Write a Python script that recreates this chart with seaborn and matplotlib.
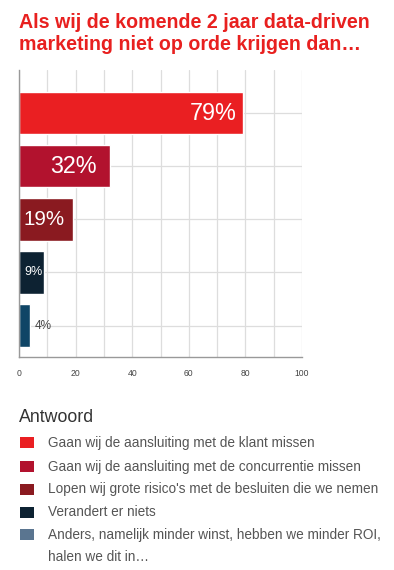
import matplotlib
matplotlib.use("Agg")
import matplotlib.pyplot as plt
import seaborn as sns
import pandas as pd
from matplotlib.patches import Rectangle

categories = [
    "Gaan wij de aansluiting met de klant missen",
    "Gaan wij de aansluiting met de concurrentie missen",
    "Lopen wij grote risico's met de besluiten die we nemen",
    "Verandert er niets",
    "Anders, namelijk minder winst, hebben we minder ROI,\nhalen we dit in\u2026",
]
values = [79, 32, 19, 9, 4]
labels = ["79%", "32%", "19%", "9%", "4%"]
bar_colors = ["#EA1F22", "#B2122E", "#8A1A20", "#0D2232", "#0F4566"]
legend_colors = ["#EA1F22", "#B2122E", "#8A1A20", "#0D2232", "#5A7590"]
x_ticks = [0, 20, 40, 60, 80, 100]
title = "Als wij de komende 2 jaar data-driven\nmarketing niet op orde krijgen dan\u2026"
legend_title = "Antwoord"

sns.set_style("white")
plt.rcParams['font.family'] = ['Liberation Sans', 'DejaVu Sans']

df = pd.DataFrame({"cat": categories, "val": values})

fig = plt.figure(figsize=(3.94, 5.70), dpi=100)
W, H = 394, 570
ax = fig.add_axes([19 / W, 1 - 357 / H, (302 - 19) / W, (357 - 70) / H])

sns.barplot(data=df, y="cat", x="val", hue="cat", palette=bar_colors,
            legend=False, orient="h", width=0.8, ax=ax, saturation=1)

ax.set_xlim(0, 100)
ax.set_ylim(4.59, -0.81)
ax.set_xticks(range(0, 101, 10), minor=True)
ax.set_xticks(x_ticks)
ax.set_xticklabels([str(t) for t in x_ticks], fontsize=6.2, color="#444444")
ax.set_yticks(range(len(categories)))
ax.set_yticklabels([])
ax.set_xlabel("")
ax.set_ylabel("")
ax.tick_params(axis="both", length=0, pad=9)
ax.grid(True, which="both", axis="x", color="#DDDDDD", linewidth=0.9)
ax.grid(True, which="major", axis="y", color="#DDDDDD", linewidth=0.9)
ax.set_axisbelow(True)
for s in ["top", "right"]:
    ax.spines[s].set_visible(False)
ax.spines["left"].set_color("#999999")
ax.spines["bottom"].set_color("#999999")
ax.spines["left"].set_linewidth(1.0)
ax.spines["bottom"].set_linewidth(1.0)

sizes = [16.8, 16.8, 14.8, 9, 8.5]
pads = [-4, -9, -6, -1.5, 3]
for i, (v, lab) in enumerate(zip(values, labels)):
    if v >= 5:
        ax.annotate(lab, (v, i), xytext=(pads[i], 0), textcoords="offset points",
                    ha="right", va="center", color="white", fontsize=sizes[i])
    else:
        ax.annotate(lab, (v, i), xytext=(pads[i], 0), textcoords="offset points",
                    ha="left", va="center", color="#444444", fontsize=sizes[i])

fig.text(19 / W, 1 - 13 / H, title, ha="left", va="top", color="#E8201F",
         fontsize=14.1, fontweight="bold", linespacing=1.2)

# legend (manual)
fig.text(19 / W, 1 - 417 / H, legend_title, ha="left", va="center",
         fontsize=12.8, color="#333333")
row_y = [442, 466, 489, 512, 534]
for c, lab, yy in zip(legend_colors, categories, row_y):
    fig.patches.append(Rectangle((20 / W, 1 - (yy + 5.5) / H), 14 / W, 11 / H,
                                 transform=fig.transFigure, facecolor=c,
                                 edgecolor="none"))
    fig.text(48 / W, 1 - (yy - 6.5) / H, lab, ha="left", va="top",
             fontsize=9.8, color="#555555", linespacing=1.75)

fig.savefig("out.png", dpi=100)
